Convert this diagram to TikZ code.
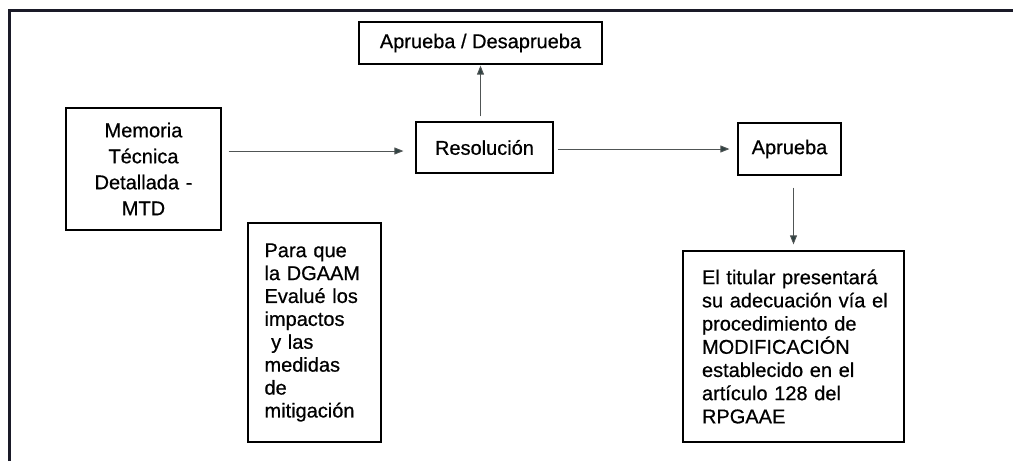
\documentclass[tikz,border=0pt]{standalone}
\usepackage{fontspec}
\setmainfont{Liberation Sans}[FakeBold=0.6]
\usetikzlibrary{arrows.meta}
\definecolor{framecol}{HTML}{1A1A28}
\definecolor{arrcol}{HTML}{505555}
\definecolor{headcol}{HTML}{2F4242}
\tikzset{
  box/.style={draw=black, line width=1.2pt, rectangle, inner sep=0pt, font=\fontsize{20}{24}\selectfont},
  arr/.style={draw=arrcol, line width=0.9pt, -{Triangle[length=9pt,width=7pt,fill=headcol]}},
}
\begin{document}
\begin{tikzpicture}[x=1pt,y=-1pt]
\useasboundingbox (0,0) rectangle (1013,461);
\fill[white] (0,0) rectangle (1013,461);
% outer frame (only top and left edges visible)
\draw[framecol, line width=3pt] (9,461) -- (9,10) -- (1013,10);

\node[box, minimum width=243, minimum height=42] (ad) at (480.5,43) {Aprueba / Desaprueba};
\node[box, minimum width=137, minimum height=51] (res) at (484.5,147.5) {Resolución};
\node[box, minimum width=103, minimum height=52] (apr) at (789.5,149) {Aprueba};
\node[box, minimum width=155, minimum height=122, text width=150, align=center,
      font=\fontsize{20}{26}\selectfont] (mtd) at (143.5,169)
  {Memoria\\Técnica\\Detallada -\\MTD};
\node[box, minimum width=133, minimum height=219, text width=100, align=left,
      font=\fontsize{20}{22.9}\selectfont] (para) at (314.5,332.5)
  {Para que\\la DGAAM\\Evalué los\\impactos\\\ y las\\medidas\\de\\mitigación};
\node[box, minimum width=221, minimum height=191, text width=183, align=left,
      font=\fontsize{20}{23.2}\selectfont] (tit) at (793.5,346.5)
  {\makebox[183pt][s]{El titular presentará}\\
   \makebox[183pt][s]{su adecuación vía el}\\
   \makebox[183pt][s]{procedimiento de}\\
   MODIFICACIÓN\\
   \makebox[183pt][s]{establecido en el}\\
   \makebox[183pt][s]{artículo 128 del}\\
   RPGAAE};

\draw[arr, shorten <=7pt, shorten >=12pt] ([yshift=-3.5pt]mtd.east |- res.west) -- ([yshift=-3.5pt]res.west);
\draw[arr, shorten <=4pt, shorten >=8pt] (res.east |- apr.west) -- (apr.west);
\draw[arr, shorten <=5pt, shorten >=1pt] (res.north -| ad.south) -- (ad.south);
\draw[arr, shorten <=12pt, shorten >=6pt] (apr.south -| tit.north) -- (tit.north);
\end{tikzpicture}
\end{document}
